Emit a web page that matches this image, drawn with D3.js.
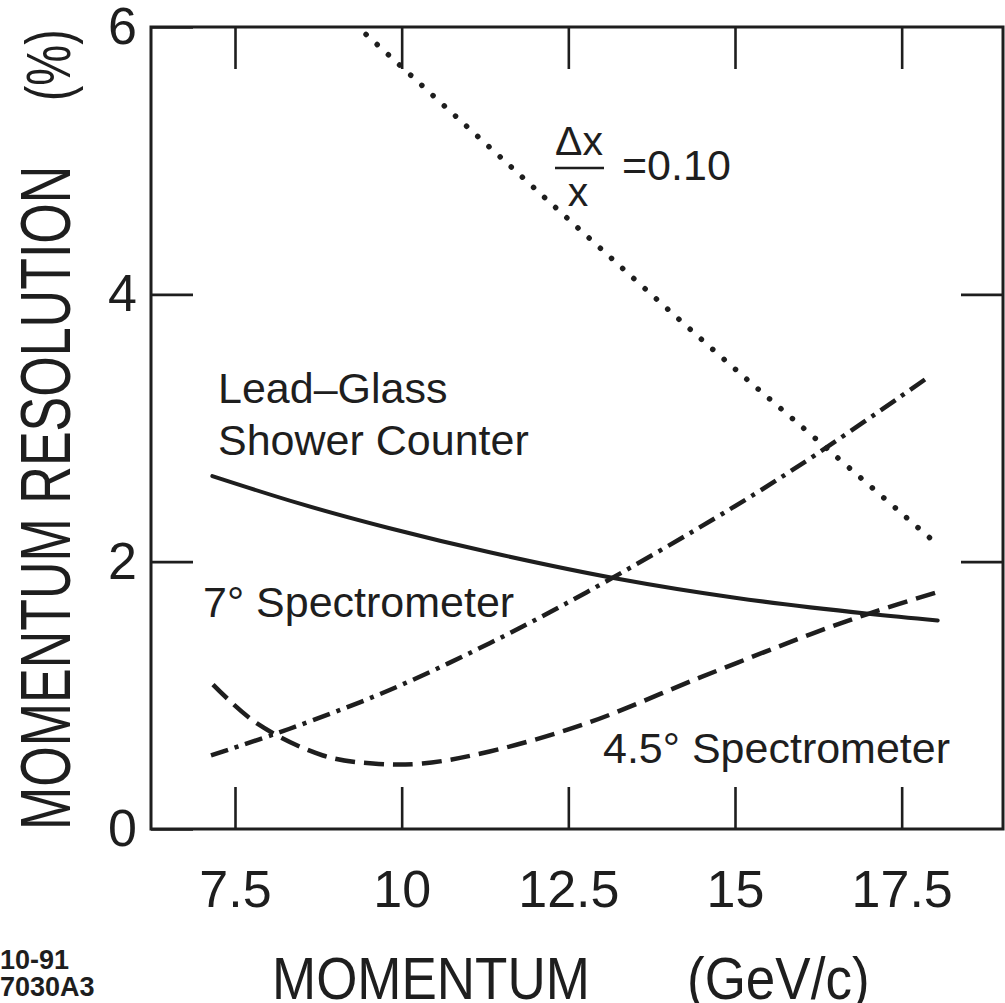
<!DOCTYPE html>
<html>
<head>
<meta charset="utf-8">
<script src="https://cdn.jsdelivr.net/npm/d3@7"></script>
<style>
  html, body { margin: 0; padding: 0; background: #fff; }
  svg { display: block; }
  text { font-family: "Liberation Sans", Arial, Helvetica, sans-serif; fill: #1e1e1e; }
</style>
</head>
<body>
<svg id="chart" width="1005" height="1003"></svg>
<script>
// Momentum resolution curves (momentum in GeV/c, resolution in %)
const leadGlassP   = [7.16, 8.5, 9.82, 11.32, 13.26, 15.0, 17.0, 18.04];
const leadGlassRes = [2.64, 2.43, 2.25, 2.07, 1.87, 1.73, 1.61, 1.56];

const spec7P   = [7.14, 8.32, 9.82, 11.32, 12.77, 14.95, 16.21, 17.87];
const spec7Res = [0.55, 0.75, 1.04, 1.39, 1.77, 2.40, 2.80, 3.37];

const spec45P   = [7.17, 7.83, 8.82, 9.57, 10.31, 11.32, 12.77, 14.46, 16.15, 17.0, 18.02];
const spec45Res = [1.08, 0.79, 0.55, 0.49, 0.49, 0.58, 0.79, 1.13, 1.46, 1.61, 1.77];

const dxP   = [9.3, 11.54, 12.77, 14.73, 16.21, 18.01];
const dxRes = [6.02, 5.0, 4.44, 3.56, 2.92, 2.14];

const xTicks = [7.5, 10, 12.5, 15, 17.5];
const xTickLabels = ["7.5", "10", "12.5", "15", "17.5"];
const yTicks = [0, 2, 4, 6];

const svg = d3.select("#chart");
const ink = "#1e1e1e";

const x = d3.scaleLinear().domain([6.24, 19.02]).range([151, 1003]);
const y = d3.scaleLinear().domain([0, 6]).range([829, 27]);

const tickLen = 42;

// inward ticks on all four sides
const axisB = svg.append("g").attr("transform", `translate(0,${y(0)})`)
  .call(d3.axisBottom(x).tickValues(xTicks).tickSizeInner(-tickLen).tickSizeOuter(0)
    .tickPadding(41).tickFormat((d, i) => xTickLabels[i]));
const axisT = svg.append("g").attr("transform", `translate(0,${y(6)})`)
  .call(d3.axisTop(x).tickValues(xTicks).tickSizeInner(-tickLen).tickSizeOuter(0).tickFormat(""));
const axisL = svg.append("g").attr("transform", `translate(${x.range()[0]},0)`)
  .call(d3.axisLeft(y).tickValues(yTicks).tickSizeInner(-tickLen).tickSizeOuter(0)
    .tickPadding(14).tickFormat(d3.format("d")));
const axisR = svg.append("g").attr("transform", `translate(${x.range()[1]},0)`)
  .call(d3.axisRight(y).tickValues([2, 4]).tickSizeInner(-tickLen).tickSizeOuter(0).tickFormat(""));

[axisB, axisT, axisL, axisR].forEach(g => {
  g.select(".domain").remove();
  g.selectAll(".tick line").attr("stroke", ink).attr("stroke-width", 2.6);
  g.selectAll(".tick text").attr("font-size", 52).attr("fill", ink)
    .style("font-family", '"Liberation Sans", Arial, sans-serif');
});

// frame
svg.append("rect")
  .attr("x", x.range()[0]).attr("y", y(6))
  .attr("width", x.range()[1] - x.range()[0]).attr("height", y(0) - y(6))
  .attr("fill", "none").attr("stroke", ink).attr("stroke-width", 3);

svg.append("clipPath").attr("id", "plot")
  .append("rect").attr("x", x.range()[0]).attr("y", y(6))
  .attr("width", x.range()[1] - x.range()[0]).attr("height", y(0) - y(6));

const line = d3.line().x(d => x(d[0])).y(d => y(d[1])).curve(d3.curveCatmullRom.alpha(0.5));
const plot = svg.append("g").attr("clip-path", "url(#plot)");

const series = [
  { p: leadGlassP, r: leadGlassRes, dash: null, cap: "round", w: 4 },
  { p: spec7P, r: spec7Res, dash: "18 7 4 7", cap: "butt", w: 4.5 },
  { p: spec45P, r: spec45Res, dash: "20 9", cap: "butt", w: 4.5 },
  { p: dxP, r: dxRes, dash: "0.1 15", cap: "round", w: 5.5 }
];

series.forEach(s => {
  plot.append("path")
    .datum(s.p.map((v, i) => [v, s.r[i]]))
    .attr("d", line)
    .attr("fill", "none")
    .attr("stroke", ink)
    .attr("stroke-width", s.w)
    .attr("stroke-linecap", s.cap)
    .attr("stroke-dasharray", s.dash);
});

// curve labels
const fs = 43;
svg.append("text").attr("x", 218).attr("y", 403).attr("font-size", fs).text("Lead\u2013Glass");
svg.append("text").attr("x", 218).attr("y", 455).attr("font-size", fs).text("Shower Counter");
svg.append("text").attr("x", 203).attr("y", 617).attr("font-size", fs).text("7\u00B0 Spectrometer");
svg.append("text").attr("x", 603).attr("y", 763).attr("font-size", fs).text("4.5\u00B0 Spectrometer");

// Δx / x = 0.10 annotation
svg.append("text").attr("x", 579).attr("y", 155).attr("font-size", 41)
  .attr("text-anchor", "middle").text("\u0394x");
svg.append("line").attr("x1", 555).attr("x2", 604).attr("y1", 168).attr("y2", 168)
  .attr("stroke", ink).attr("stroke-width", 2.5);
svg.append("text").attr("x", 578).attr("y", 206).attr("font-size", 41)
  .attr("text-anchor", "middle").text("x");
svg.append("text").attr("x", 622).attr("y", 180).attr("font-size", fs).text("=0.10");

// axis titles
svg.append("text").attr("transform", "translate(272,999) scale(1,1.1)")
  .attr("font-size", 53).text("MOMENTUM");
svg.append("text").attr("transform", "translate(687,999) scale(1,1.1)")
  .attr("font-size", 53).text("(GeV/c)");

svg.append("text").attr("transform", "translate(70,830) rotate(-90) scale(1,1.35)")
  .attr("font-size", 52).text("MOMENTUM RESOLUTION");
svg.append("text").attr("transform", "translate(70,101) rotate(-90) scale(1,1.35)")
  .attr("font-size", 46).text("(%)");

// figure id
svg.append("text").attr("x", 0).attr("y", 969).attr("font-size", 27).attr("font-weight", "bold").text("10-91");
svg.append("text").attr("x", 0).attr("y", 996).attr("font-size", 27).attr("font-weight", "bold").text("7030A3");
</script>
</body>
</html>
